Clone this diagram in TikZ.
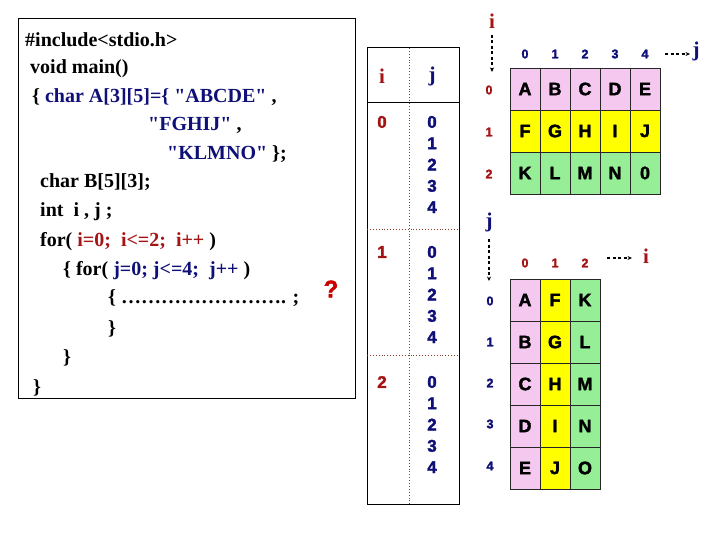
\documentclass[tikz,border=0pt]{standalone}
\usepackage{fontspec}
\setmainfont{Liberation Serif}[Ligatures=TeXOff]
\newfontfamily\sansb{Liberation Sans}[BoldFeatures={FakeBold=2}]
\usetikzlibrary{arrows.meta}
\definecolor{dred}{RGB}{165,20,20}
\definecolor{navy}{RGB}{15,15,120}
\definecolor{qred}{RGB}{200,0,0}
\definecolor{cpink}{RGB}{245,200,240}
\definecolor{cyel}{RGB}{255,255,0}
\definecolor{cgreen}{RGB}{150,238,150}
\definecolor{dotc}{RGB}{140,60,40}
\begin{document}
\begin{tikzpicture}[x=1pt,y=-1pt,
  code/.style={anchor=west, inner sep=0pt, font=\fontsize{20}{24}\selectfont\bfseries},
  hdr/.style={inner sep=0pt, font=\fontsize{21}{24}\selectfont\bfseries},
  mdig/.style={inner sep=0pt, font=\sansb\bfseries\fontsize{17}{20}\selectfont},
  sdig/.style={inner sep=0pt, font=\sansb\bfseries\fontsize{12.5}{14}\selectfont},
  cellbox/.style={draw=black!85, line width=0.8pt, minimum width=30pt, minimum height=42pt, inner sep=0pt, font=\sansb\bfseries\fontsize{18}{20}\selectfont},
  darr/.style={dashed, dash pattern=on 3pt off 2.5pt, line width=1.1pt, -{Stealth[length=4.5pt,width=4pt]}},
  dotl/.style={dotc, dotted, line width=0.9pt}
]
\useasboundingbox (0,0) rectangle (720,540);

% ---------- code box ----------
\draw[line width=0.9pt] (18,18) rectangle (355,398);
\node[code] (c1) at (25,40) {\#include<stdio.h>};
\node[code] (c2) at (30,69) {void main()};
\node[code] (c3) at (32,97) {\{ \textcolor{navy}{char A[3][5]=\{ "ABCDE"} ,};
\node[code] (c4) at (148,125) {\textcolor{navy}{"FGHIJ"} ,};
\node[code] (c5) at (167,154) {\textcolor{navy}{"KLMNO"} \};};
\node[code] (c6) at (40,182) {char B[5][3];};
\node[code] (c7) at (40,212) {int~ i , j ;};
\node[code] (c8) at (40,242) {for( \textcolor{dred}{i=0;~ i<=2;~ i++} )};
\node[code] (c9) at (63,271) {\{ for( \textcolor{navy}{j=0; j<=4;~ j++} )};
\node[code] (c10) at (108,298) {\{ ……………………. ;};
\node[code] (c11) at (108,329) {\}};
\node[code] (c12) at (63,358) {\}};
\node[code] (c13) at (33,388) {\}};
\node[inner sep=0pt, text=qred, font=\sansb\bfseries\fontsize{24}{26}\selectfont] (q) at (331,289) {?};

% ---------- i/j table ----------
\draw[line width=1pt] (367,48) rectangle (459,504);
\draw[line width=1pt] (367,103) -- (459,103);
\draw[dotl] (409,48) -- (409,504);
\draw[dotl] (367,229) -- (459,229);
\draw[dotl] (367,355) -- (459,355);
\node[hdr, text=dred] (hi) at (382,76) {i};
\node[hdr, text=navy] (hj) at (432,76) {j};
\foreach \iv/\y in {0/122,1/252,2/382}{
  \node[mdig, text=dred] (ti\iv) at (382,\y) {\iv};
  \foreach \jv in {0,...,4}{
    \node[mdig, text=navy] (tj\iv\jv) at (432,{\y+21.3*\jv}) {\jv};
  }
}

% ---------- A[3][5] ----------
\node[hdr, text=dred] (Ai) at (492,21) {i};
\coordinate (Aia) at (492,35);
\coordinate (Aib) at (492,72);
\draw[darr] (Aia) -- (Aib);
\node[hdr, text=navy] (Aj) at (696,51) {j};
\coordinate (Aja) at (665,54);
\coordinate (Ajb) at (690,54);
\draw[darr] (Aja) -- (Ajb);
\foreach \r/\col/\letters in {0/cpink/{A,B,C,D,E},1/cyel/{F,G,H,I,J},2/cgreen/{K,L,M,N,0}}{
  \foreach \ch [count=\c from 0] in \letters{
    \node[cellbox, fill=\col] (A\r\c) at ({525+30*\c},{89+42*\r}) {\ch};
  }
}
\foreach \c in {0,...,4}{
  \node[sdig, text=navy] (Acl\c) at ({525+30*\c},54) {\c};
}
\foreach \r/\y in {0/90,1/132,2/174}{
  \node[sdig, text=dred] (Arl\r) at (489,\y) {\r};
}

% ---------- B[5][3] ----------
\node[hdr, text=navy] (Bj) at (489,222) {j};
\coordinate (Bja) at (489,239);
\coordinate (Bjb) at (489,281);
\draw[darr] (Bja) -- (Bjb);
\node[hdr, text=dred] (Bi) at (646,256) {i};
\coordinate (Bia) at (607,258);
\coordinate (Bib) at (632,258);
\draw[darr] (Bia) -- (Bib);
\foreach \c/\col/\letters in {0/cpink/{A,B,C,D,E},1/cyel/{F,G,H,I,J},2/cgreen/{K,L,M,N,O}}{
  \foreach \ch [count=\r from 0] in \letters{
    \node[cellbox, fill=\col] (B\r\c) at ({525+30*\c},{300+42*\r}) {\ch};
  }
}
\foreach \c in {0,1,2}{
  \node[sdig, text=dred] (Bcl\c) at ({525+30*\c},263) {\c};
}
\foreach \r/\y in {0/301,1/342,2/383,3/424,4/466}{
  \node[sdig, text=navy] (Brl\r) at (490,\y) {\r};
}
\end{tikzpicture}
\end{document}
